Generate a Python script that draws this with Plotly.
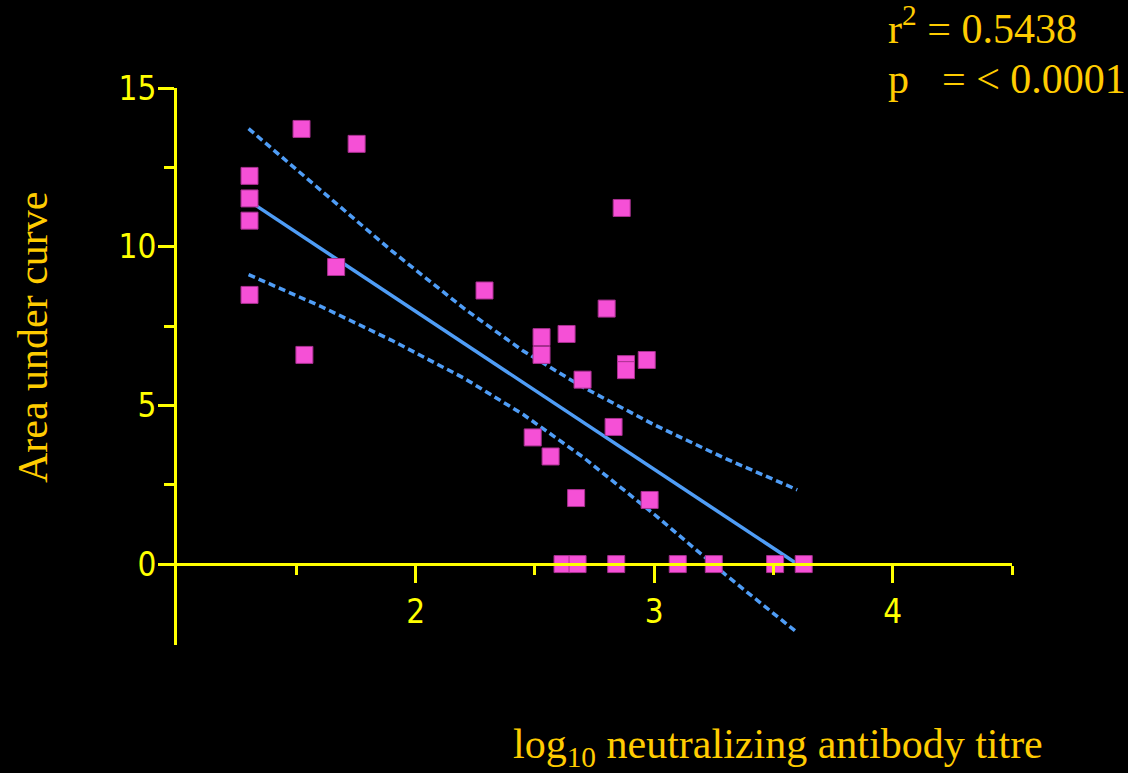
import plotly.graph_objects as go

# Scatter data (log10 titre, area under curve)
pts_x = [1.304, 1.304, 1.304, 1.304, 1.522, 1.753, 1.534, 1.667, 2.289, 2.801,
         2.528, 2.528, 2.633, 2.882, 2.882, 2.969, 2.700, 2.830, 2.491, 2.566,
         2.673, 2.981, 2.864,
         2.616, 2.679, 2.841, 3.099, 3.250, 3.507, 3.627]
pts_y = [12.23, 11.52, 10.82, 8.48, 13.71, 13.24, 6.59, 9.36, 8.62, 8.05,
         7.15, 6.59, 7.25, 6.30, 6.11, 6.43, 5.81, 4.32, 3.99, 3.39,
         2.08, 2.02, 11.22,
         0.0, 0.0, 0.0, 0.0, 0.0, 0.0, 0.0]

# Regression line
fit_x = [1.30, 3.60]
fit_y = [11.45, 0.0]

# 95% confidence band
band_x = [1.30, 1.60, 1.90, 2.20, 2.45, 2.70, 3.00, 3.30, 3.60]
band_upper = [13.72, 11.78, 9.87, 8.07, 6.72, 5.58, 4.39, 3.32, 2.34]
band_lower = [9.12, 8.13, 7.05, 5.87, 4.72, 3.38, 1.57, -0.34, -2.16]

x_ticks = [2, 3, 4]
x_minor = [1.5, 2.5, 3.5, 4.5]
y_ticks = [0, 5, 10, 15]
y_minor = [2.5, 7.5, 12.5]

YELLOW = "#FFFF00"
GOLD = "#FFCC00"
BLUE = "#4F9DF6"
PINK = "#F550D6"

fig = go.Figure()
fig.add_trace(go.Scatter(x=band_x, y=band_upper, mode="lines",
                         line=dict(color=BLUE, width=3.5, dash="7px,4px"), hoverinfo="skip"))
fig.add_trace(go.Scatter(x=band_x, y=band_lower, mode="lines",
                         line=dict(color=BLUE, width=3.5, dash="7px,4px"), hoverinfo="skip"))
fig.add_trace(go.Scatter(x=fit_x, y=fit_y, mode="lines",
                         line=dict(color=BLUE, width=3.5)))
fig.add_trace(go.Scatter(x=pts_x, y=pts_y, mode="markers",
                         marker=dict(symbol="square", size=17, color=PINK,
                                     line=dict(color="#A8308F", width=1)),
                         cliponaxis=False))

ymin, ymax = -2.55, 15
tickfont = dict(family="Liberation Sans Narrow, Arial Narrow, DejaVu Sans Condensed, Roboto Condensed, Liberation Sans, sans-serif",
                size=33, color=YELLOW)

fig.update_layout(
    width=1128, height=773,
    paper_bgcolor="black", plot_bgcolor="black",
    showlegend=False,
    margin=dict(l=177, r=116, t=88, b=128),
    xaxis=dict(range=[1, 4.5], showgrid=False, zeroline=False,
               showline=True, linecolor=YELLOW, linewidth=3,
               anchor="free", position=(0 - ymin) / (ymax - ymin),
               tickmode="array", tickvals=x_ticks, ticktext=[str(v) for v in x_ticks],
               ticks="outside", ticklen=17, tickwidth=3, tickcolor=YELLOW,
               minor=dict(tickmode="array", tickvals=x_minor, ticks="outside",
                          ticklen=9, tickwidth=3, tickcolor=YELLOW),
               tickfont=tickfont),
    yaxis=dict(range=[ymin, ymax], showgrid=False, zeroline=False,
               showline=True, linecolor=YELLOW, linewidth=3,
               tickmode="array", tickvals=y_ticks, ticktext=[str(v) for v in y_ticks],
               ticks="outside", ticklen=16, tickwidth=3, tickcolor=YELLOW,
               ticklabelstandoff=-5,
               minor=dict(tickmode="array", tickvals=y_minor, ticks="outside",
                          ticklen=10, tickwidth=3, tickcolor=YELLOW),
               tickfont=tickfont),
)

W, H = 835, 557
def px(x):
    return (x - 177) / W
def py(y):
    return (645 - y) / H

serif = dict(family="Liberation Serif, Times New Roman, serif", size=42, color=GOLD)
fig.add_annotation(text="r<sup>2</sup>\u00a0= 0.5438", x=px(886), y=py(25), xref="paper", yref="paper",
                   xanchor="left", yanchor="middle", showarrow=False, font=serif)
fig.add_annotation(text="p", x=px(886), y=py(79), xref="paper", yref="paper",
                   xanchor="left", yanchor="middle", showarrow=False, font=serif)
fig.add_annotation(text="= &lt; 0.0001", x=px(940), y=py(79), xref="paper", yref="paper",
                   xanchor="left", yanchor="middle", showarrow=False, font=serif)
fig.add_annotation(text="log<sub>10</sub> neutralizing antibody titre", x=px(511), y=py(747),
                   xref="paper", yref="paper", xanchor="left", yanchor="middle",
                   showarrow=False, font=serif)
fig.add_annotation(text="Area under curve", x=px(33), y=py(337), xref="paper", yref="paper",
                   xanchor="center", yanchor="middle", textangle=-90,
                   showarrow=False, font=serif)

fig.write_html("out.html", config={"displayModeBar": False},
               post_script="document.body.style.margin='0';document.body.style.background='black';document.body.style.overflow='hidden';")
